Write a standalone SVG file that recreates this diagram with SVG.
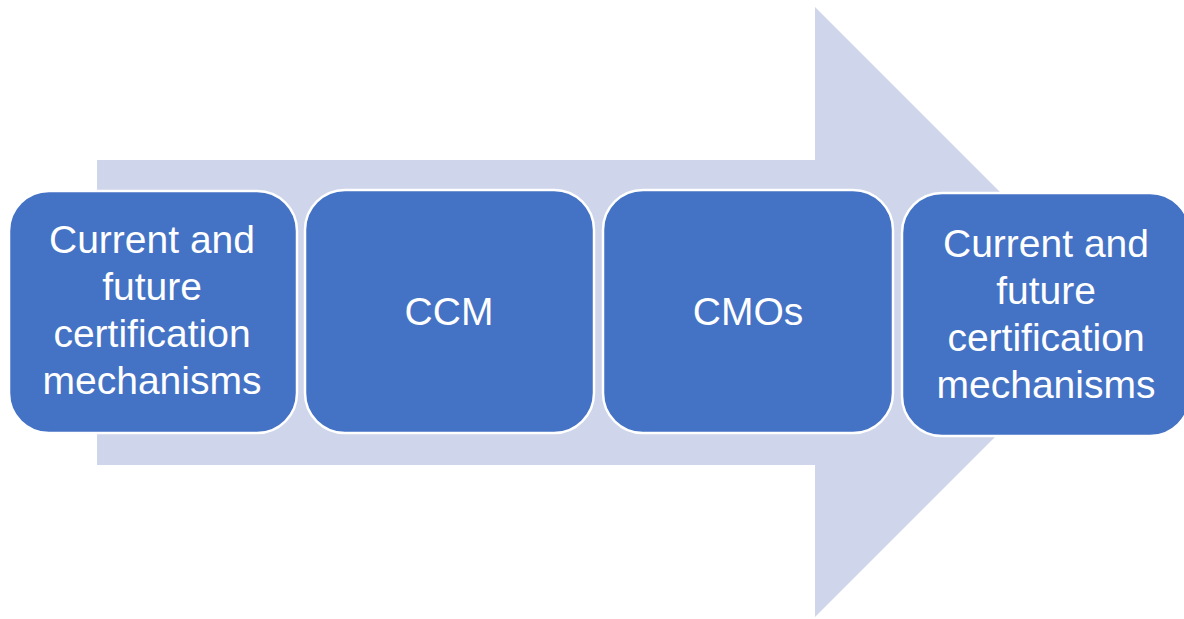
<svg xmlns="http://www.w3.org/2000/svg" width="1184" height="619" viewBox="0 0 1184 619">
<style>
.box{fill:#4472C4;stroke:#FFFFFF;stroke-width:2.5}
.lbl{font-family:"Liberation Sans",Arial,sans-serif;font-size:39px;fill:#FFFFFF;text-anchor:middle}
</style>
<rect x="0" y="0" width="1184" height="619" fill="#FFFFFF"/>
<g id="arrow">
<polygon points="97,160 815,160 815,7 1120,312 815,617 815,465 97,465" fill="#CFD5EA"/>
</g>
<g id="connectors"></g>
<g id="node1">
<rect class="box" x="9" y="191" width="288" height="242" rx="40" ry="40"/>
<text class="lbl" x="152" y="253">Current and</text>
<text class="lbl" x="152" y="300">future</text>
<text class="lbl" x="152" y="347">certification</text>
<text class="lbl" x="152" y="394">mechanisms</text>
</g>
<g id="node2">
<rect class="box" x="305" y="190" width="289" height="243" rx="40" ry="40"/>
<text class="lbl" x="449" y="325">CCM</text>
</g>
<g id="node3">
<rect class="box" x="603" y="190" width="290" height="243" rx="40" ry="40"/>
<text class="lbl" x="748" y="325">CMOs</text>
</g>
<g id="node4">
<rect class="box" x="902" y="193" width="288" height="243" rx="40" ry="40"/>
<text class="lbl" x="1046" y="257">Current and</text>
<text class="lbl" x="1046" y="304">future</text>
<text class="lbl" x="1046" y="351">certification</text>
<text class="lbl" x="1046" y="398">mechanisms</text>
</g>
</svg>
